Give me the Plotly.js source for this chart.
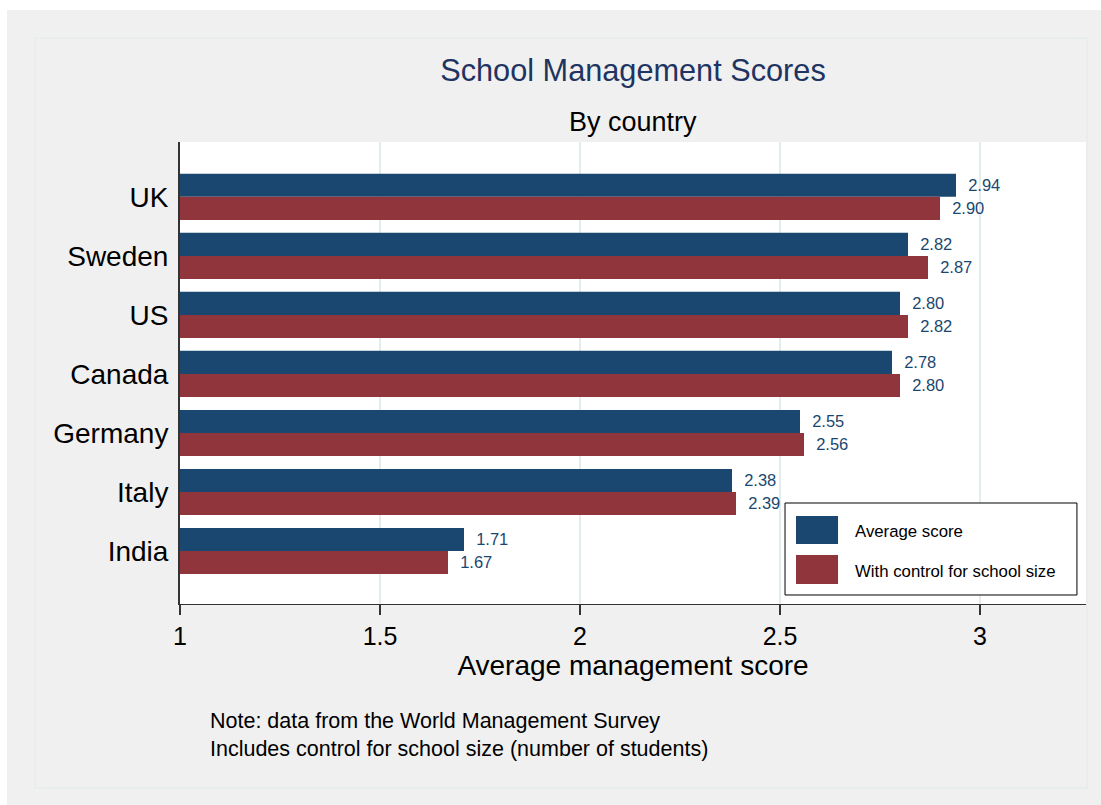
<!DOCTYPE html>
<html>
<head>
<meta charset="utf-8">
<script src="https://cdn.plot.ly/plotly-3.0.1.min.js"></script>
<style>
html,body{margin:0;padding:0;background:#ffffff;overflow:hidden;}
#chart{position:absolute;left:7px;top:10px;width:1094px;height:795px;}
</style>
</head>
<body>
<div id="chart"></div>
<script>
const countries = ["UK", "Sweden", "US", "Canada", "Germany", "Italy", "India"];
const averageScore = [2.94, 2.82, 2.80, 2.78, 2.55, 2.38, 1.71];
const withControl = [2.90, 2.87, 2.82, 2.80, 2.56, 2.39, 1.67];
const seriesNames = ["Average score", "With control for school size"];
const xTicks = [1, 1.5, 2, 2.5, 3];
const xTickLabels = ["1", "1.5", "2", "2.5", "3"];
const noteLines = ["Note: data from the World Management Survey", "Includes control for school size (number of students)"];

const FONT = "Liberation Sans, Arial, Helvetica, sans-serif";
const NAVY = "#1a476f";
const MAROON = "#90353b";
const BG = "#f0f0f0";

const traces = [
  {
    type: "bar", orientation: "h", name: seriesNames[0],
    y: countries, x: averageScore,
    marker: {color: NAVY, line: {width: 0}},
    texttemplate: "\u00a0\u00a0%{x:.2f}", textposition: "outside",
    textfont: {family: FONT, size: 16.5, color: NAVY},
    cliponaxis: false, showlegend: false, hoverinfo: "x+y"
  },
  {
    type: "bar", orientation: "h", name: seriesNames[1],
    y: countries, x: withControl,
    marker: {color: MAROON, line: {width: 0}},
    texttemplate: "\u00a0\u00a0%{x:.2f}", textposition: "outside",
    textfont: {family: FONT, size: 16.5, color: NAVY},
    cliponaxis: false, showlegend: false, hoverinfo: "x+y"
  }
];

const layout = {
  width: 1094, height: 795,
  margin: {l: 173, r: 15, t: 132, b: 201, pad: 0},
  paper_bgcolor: BG,
  plot_bgcolor: "#ffffff",
  font: {family: FONT, color: "#000000"},
  barmode: "group",
  bargap: 0.22,
  bargroupgap: 0,
  showlegend: false,
  title: {
    text: "School Management Scores",
    font: {family: FONT, size: 30.7, color: "#1f3461"},
    xref: "paper", x: 0.5, xanchor: "center",
    yref: "container", y: 1 - 60/795, yanchor: "middle"
  },
  xaxis: {
    range: [1, 3.265],
    tickvals: xTicks, ticktext: xTickLabels,
    ticks: "outside", ticklen: 10, tickwidth: 1.3, tickcolor: "#333333",
    tickfont: {family: FONT, size: 25, color: "#000000"},
    showgrid: true, gridcolor: "#e3edef", gridwidth: 1.5,
    zeroline: false,
    showline: true, linecolor: "#333333", linewidth: 1.3,
    title: {text: "Average management score", font: {family: FONT, size: 28, color: "#000000"}, standoff: 4},
    fixedrange: true
  },
  yaxis: {
    type: "category",
    range: [6.9, -0.93],
    ticks: "", ticklabelstandoff: 4,
    tickfont: {family: FONT, size: 28, color: "#000000"},
    showgrid: false, zeroline: false,
    showline: true, linecolor: "#333333", linewidth: 2,
    fixedrange: true
  },
  shapes: [
    {type: "rect", xref: "paper", yref: "paper", x0: -0.16, x1: 1.0011, y0: -0.398, y1: 1.225,
     line: {color: "#e2eaec", width: 1}, fillcolor: "rgba(0,0,0,0)", layer: "below"},
    {type: "rect", xref: "paper", yref: "paper", x0: 0.6678, x1: 0.990, y0: 0.0195, y1: 0.2186,
     line: {color: "#000000", width: 1}, fillcolor: "#ffffff", layer: "above"},
    {type: "rect", xref: "paper", yref: "paper", x0: 0.6799, x1: 0.7263, y0: 0.1299, y1: 0.1905,
     line: {width: 0}, fillcolor: NAVY, layer: "above"},
    {type: "rect", xref: "paper", yref: "paper", x0: 0.6799, x1: 0.7263, y0: 0.0433, y1: 0.1061,
     line: {width: 0}, fillcolor: MAROON, layer: "above"}
  ],
  annotations: [
    {text: "By country", xref: "paper", yref: "paper", x: 0.5, y: (604-122)/462,
     xanchor: "center", yanchor: "middle", showarrow: false,
     font: {family: FONT, size: 27, color: "#000000"}},
    {text: seriesNames[0], xref: "paper", yref: "paper", x: 0.7425, y: 0.158,
     xanchor: "left", yanchor: "middle", showarrow: false,
     font: {family: FONT, size: 16.8, color: "#000000"}},
    {text: seriesNames[1], xref: "paper", yref: "paper", x: 0.7425, y: 0.0714,
     xanchor: "left", yanchor: "middle", showarrow: false,
     font: {family: FONT, size: 16.8, color: "#000000"}},
    {text: noteLines.join("<br>"),
     xref: "paper", yref: "paper", x: (208-180)/906, y: (604-735)/462,
     xanchor: "left", yanchor: "middle", align: "left", showarrow: false,
     font: {family: FONT, size: 21.5, color: "#000000"}}
  ]
};

Plotly.newPlot("chart", traces, layout, {displayModeBar: false, staticPlot: true});
</script>
</body>
</html>
